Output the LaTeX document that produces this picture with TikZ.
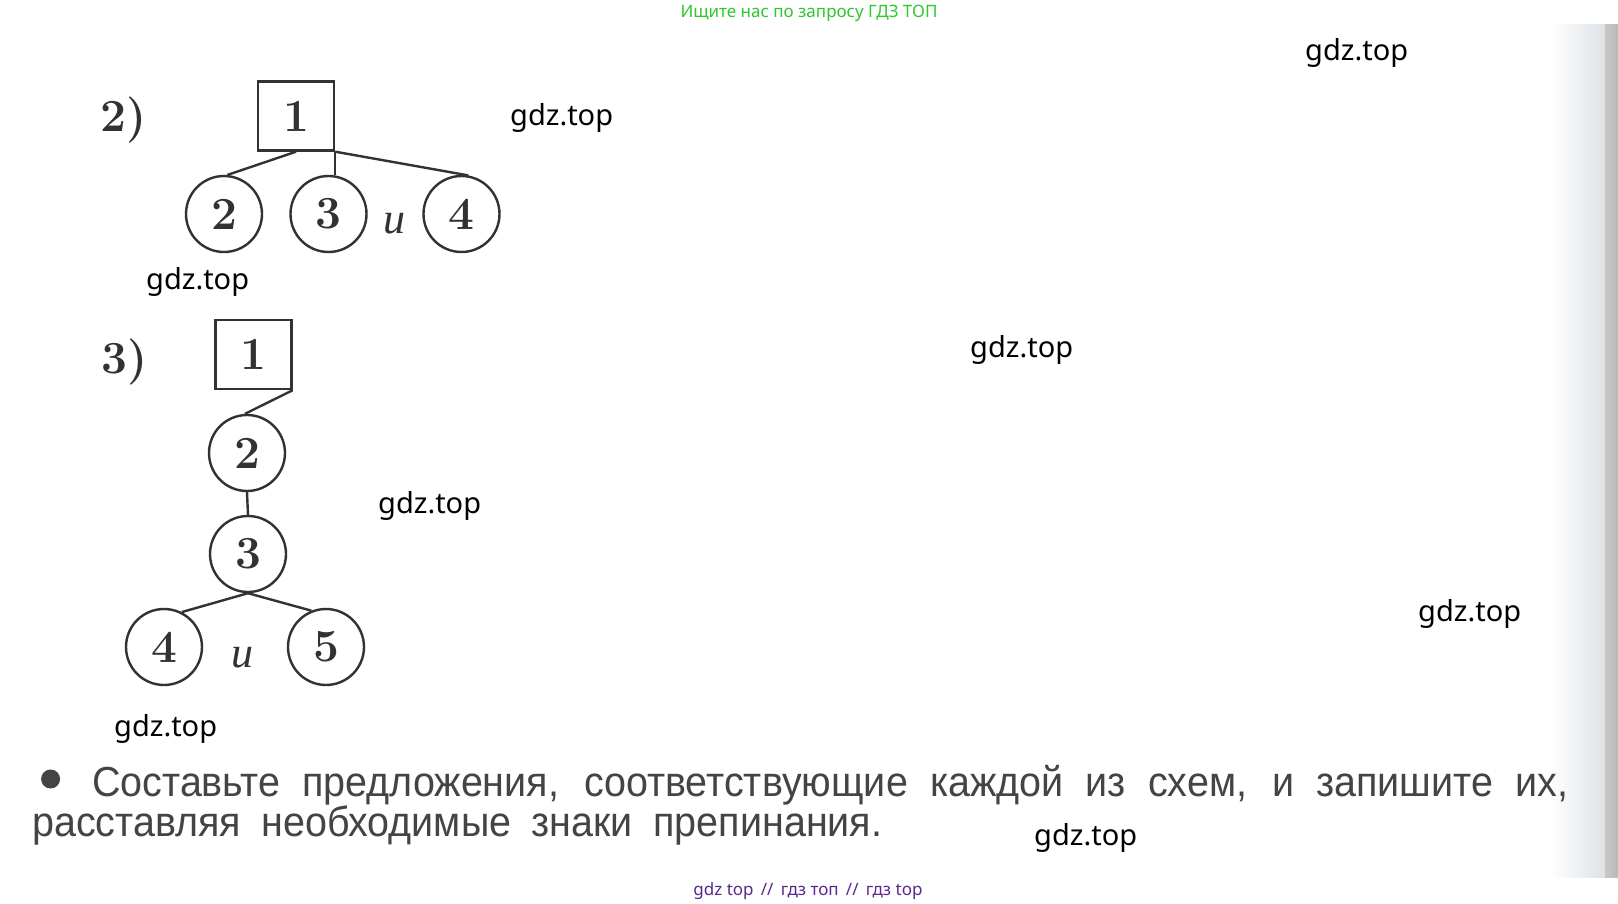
\documentclass[tikz,border=0pt]{standalone}
\usepackage{fontspec}
\newfontfamily\wmfont{Noto Sans}
\newfontfamily\bodyfont[FakeStretch=0.94]{Liberation Sans}
\newfontfamily\itfont{Liberation Serif}
\definecolor{ink}{RGB}{50,50,50}
\definecolor{bodyink}{RGB}{68,68,68}
\definecolor{greentxt}{RGB}{45,200,45}
\definecolor{purpletxt}{RGB}{90,40,140}
\definecolor{bandlight}{RGB}{222,226,230}
\definecolor{banddark}{RGB}{185,185,185}
\tikzset{
  boxnode/.style={draw=ink, line width=2.4pt, minimum width=76pt, minimum height=69pt, inner sep=0pt, text=ink, font=\fontsize{46}{46}\selectfont\bfseries},
  circnode/.style={draw=ink, line width=2.4pt, circle, minimum size=76pt, inner sep=0pt, text=ink, font=\fontsize{46}{46}\selectfont\bfseries},
  link/.style={draw=ink, line width=2.4pt},
  label/.style={text=ink, font=\fontsize{46}{46}\selectfont\bfseries, inner sep=0pt},
  conj/.style={text=ink, font=\fontsize{44}{44}\selectfont\itfont\itshape, inner sep=0pt, anchor=base},
  wm/.style={text=black, font=\fontsize{29}{29}\selectfont\wmfont, inner sep=0pt, anchor=base west},
  body/.style={text=bodyink, font=\fontsize{42}{42}\selectfont\bodyfont, inner sep=0pt, anchor=base west}
}
\begin{document}
\begin{tikzpicture}[x=1pt,y=-1pt]
\useasboundingbox (0,0) rectangle (1618,904);
\fill[white] (0,0) rectangle (1618,904);
% page edge shading
\shade[left color=white, right color=bandlight] (1550,25) rectangle (1605,877);
\shade[left color=banddark!80, right color=banddark] (1605,25) rectangle (1618,877);

% top banner
\node[text=greentxt, font=\fontsize{17}{17}\selectfont\wmfont, inner sep=0pt, anchor=base] (banner) at (809,18) {Ищите нас по запросу ГДЗ ТОП};

% scheme 2
\node[label] (lab2) at (124,120) {2)};
\node[boxnode] (b2) at (296,116) {1};
\node[circnode] (s2c2) at (224,214) {2};
\node[circnode] (s2c3) at (328.5,214) {3};
\node[circnode] (s2c4) at (461.5,214) {4};
\node[conj] (s2i) at (394,234) {и};
\draw[link] (b2.south) -- (s2c2.85);
\draw[link] (b2.south east) -- (b2.south east |- s2c3.north);
\draw[link] (b2.south east) -- (s2c4.80);

% scheme 3
\node[label] (lab3) at (125,362) {3)};
\node[boxnode] (b3) at (253.5,354.5) {1};
\node[circnode] (s3c2) at (247,453) {2};
\node[circnode] (s3c3) at (248,554) {3};
\node[circnode] (s3c4) at (164,647) {4};
\node[circnode] (s3c5) at (326,647) {5};
\node[conj] (s3i) at (242,667) {и};
\draw[link] (b3.south east) -- (s3c2.93);
\draw[link] (s3c2.south) -- (s3c3.north);
\draw[link] (s3c3.south) -- (s3c4.63);
\draw[link] (s3c3.south) -- (s3c5.112);

% bottom text
\fill[bodyink] (50.6,779) circle (9.5pt);
\node[body] (line1) at (92,796) {\hbox to 1476pt{Составьте предложения, соответствующие каждой из схем, и запишите их,}};
\node[body] (line2) at (32,836) {\hbox to 850pt{расставляя необходимые знаки препинания.}};

% watermarks
\node[wm] (wm1) at (1305,61) {gdz.top};
\node[wm] (wm2) at (510,126) {gdz.top};
\node[wm] (wm3) at (146,290) {gdz.top};
\node[wm] (wm4) at (970,357) {gdz.top};
\node[wm] (wm5) at (378,513) {gdz.top};
\node[wm] (wm6) at (1418,621) {gdz.top};
\node[wm] (wm7) at (114,736) {gdz.top};
\node[wm] (wm8) at (1034,845) {gdz.top};

% footer
\node[text=purpletxt, font=\fontsize{17}{17}\selectfont\wmfont, inner sep=0pt, anchor=base] (footer) at (808,895) {gdz top \,//\, гдз топ \,//\, гдз top};
\end{tikzpicture}
\end{document}
